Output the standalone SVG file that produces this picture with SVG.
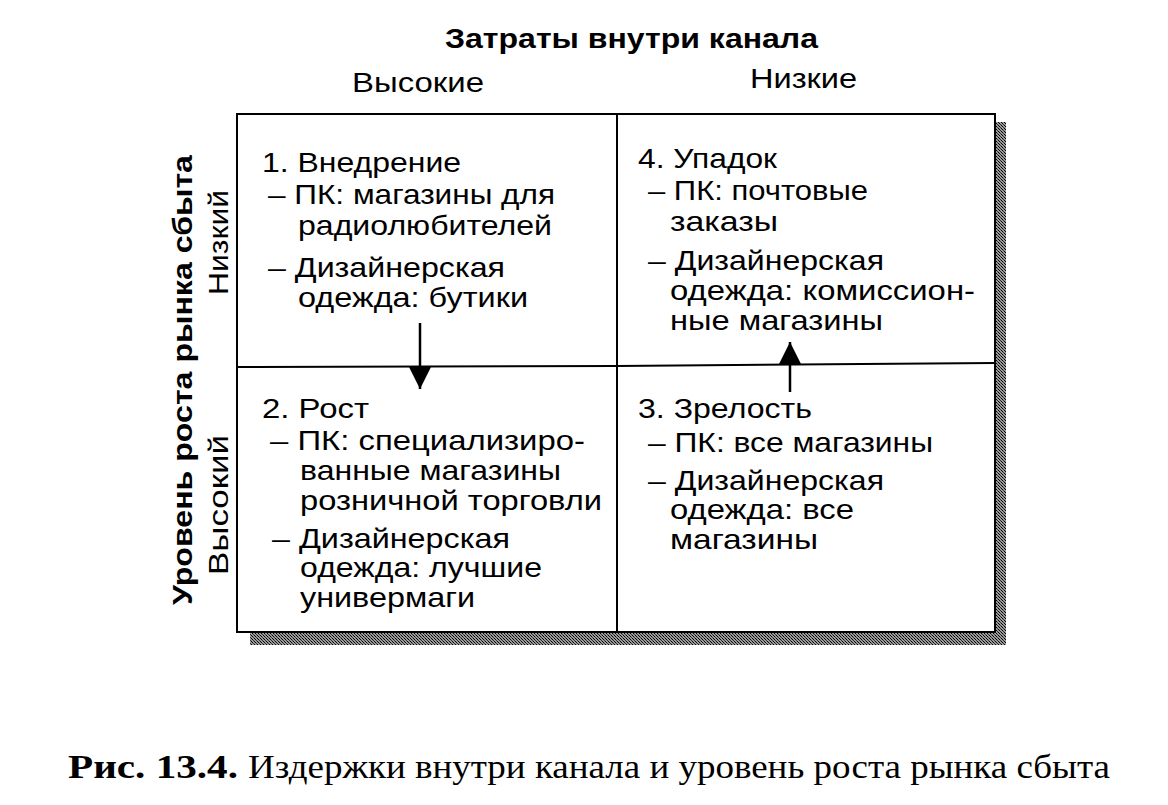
<svg xmlns="http://www.w3.org/2000/svg" width="1168" height="805" viewBox="0 0 1168 805">
<defs>
<pattern id="dots" width="4" height="4" patternUnits="userSpaceOnUse">
<rect width="4" height="4" fill="#efefef"/>
<rect x="0" y="0" width="1" height="1" fill="#7a7a7a"/>
<rect x="2" y="2" width="1" height="1" fill="#9a9a9a"/>
</pattern>
<pattern id="shade" width="3" height="3" patternUnits="userSpaceOnUse">
<rect width="3" height="3" fill="#9a9a9a"/>
<rect x="0" y="0" width="1" height="1" fill="#000"/>
<rect x="1" y="1" width="1" height="1" fill="#333"/>
<rect x="2" y="2" width="1" height="1" fill="#000"/>
</pattern>
<marker id="ah" viewBox="0 0 10 10" refX="10" refY="5" markerWidth="22" markerHeight="22" markerUnits="userSpaceOnUse" orient="auto">
<path d="M0,0 L10,5 L0,10 Z" fill="#000"/>
</marker>
<style>
.t{font-family:"Liberation Sans",Arial,sans-serif;font-size:28px;fill:#000}
.b{font-family:"Liberation Sans",Arial,sans-serif;font-size:27px;font-weight:bold;fill:#000}
.cap{font-family:"Liberation Serif","Times New Roman",serif;font-size:33px;fill:#000}
.grid{fill:none;stroke:#000;stroke-width:2}
.conn{stroke:#000;stroke-width:2.5;fill:none}
</style>
</defs>

<g id="shadow">
<rect x="995" y="122" width="11" height="523" fill="url(#shade)"/>
<rect x="250" y="632" width="756" height="13" fill="url(#shade)"/>
</g>

<g id="matrix">
<rect x="237" y="114" width="758" height="518" fill="url(#dots)" class="grid"/>
<line x1="617" y1="114" x2="617" y2="632" class="grid"/>
<line x1="237" y1="367" x2="617" y2="366" class="grid"/>
<line x1="617" y1="366" x2="995" y2="363" class="grid"/>
</g>

<g id="header">
<text class="b" x="445" y="48" textLength="373" lengthAdjust="spacingAndGlyphs">Затраты внутри канала</text>
<text class="t" x="352" y="92" textLength="132" lengthAdjust="spacingAndGlyphs">Высокие</text>
<text class="t" x="750" y="88" textLength="107" lengthAdjust="spacingAndGlyphs">Низкие</text>
</g>

<g id="yaxis">
<text class="b" transform="translate(192,605) rotate(-90)" x="0" y="0" textLength="450" lengthAdjust="spacingAndGlyphs">Уровень роста рынка сбыта</text>
<text class="t" transform="translate(228,295) rotate(-90)" x="0" y="0" textLength="105" lengthAdjust="spacingAndGlyphs">Низкий</text>
<text class="t" transform="translate(228,575) rotate(-90)" x="0" y="0" textLength="140" lengthAdjust="spacingAndGlyphs">Высокий</text>
</g>

<g id="q1">
<text class="t" x="262" y="172" textLength="199" lengthAdjust="spacingAndGlyphs">1. Внедрение</text>
<text class="t" x="268" y="204" textLength="287" lengthAdjust="spacingAndGlyphs">– ПК: магазины для</text>
<text class="t" x="298" y="235" textLength="254" lengthAdjust="spacingAndGlyphs">радиолюбителей</text>
<text class="t" x="268" y="277" textLength="237" lengthAdjust="spacingAndGlyphs">– Дизайнерская</text>
<text class="t" x="298" y="307" textLength="230" lengthAdjust="spacingAndGlyphs">одежда: бутики</text>
</g>

<g id="q4">
<text class="t" x="638" y="168" textLength="139" lengthAdjust="spacingAndGlyphs">4. Упадок</text>
<text class="t" x="648" y="200" textLength="220" lengthAdjust="spacingAndGlyphs">– ПК: почтовые</text>
<text class="t" x="670" y="231" textLength="108" lengthAdjust="spacingAndGlyphs">заказы</text>
<text class="t" x="648" y="270" textLength="236" lengthAdjust="spacingAndGlyphs">– Дизайнерская</text>
<text class="t" x="670" y="300" textLength="305" lengthAdjust="spacingAndGlyphs">одежда: комиссион-</text>
<text class="t" x="670" y="330" textLength="213" lengthAdjust="spacingAndGlyphs">ные магазины</text>
</g>

<g id="q2">
<text class="t" x="262" y="418" textLength="107" lengthAdjust="spacingAndGlyphs">2. Рост</text>
<text class="t" x="270" y="450" textLength="315" lengthAdjust="spacingAndGlyphs">– ПК: специализиро-</text>
<text class="t" x="300" y="480" textLength="261" lengthAdjust="spacingAndGlyphs">ванные магазины</text>
<text class="t" x="300" y="510" textLength="302" lengthAdjust="spacingAndGlyphs">розничной торговли</text>
<text class="t" x="272" y="548" textLength="238" lengthAdjust="spacingAndGlyphs">– Дизайнерская</text>
<text class="t" x="300" y="577" textLength="242" lengthAdjust="spacingAndGlyphs">одежда: лучшие</text>
<text class="t" x="300" y="607" textLength="175" lengthAdjust="spacingAndGlyphs">универмаги</text>
</g>

<g id="q3">
<text class="t" x="638" y="418" textLength="174" lengthAdjust="spacingAndGlyphs">3. Зрелость</text>
<text class="t" x="648" y="452" textLength="285" lengthAdjust="spacingAndGlyphs">– ПК: все магазины</text>
<text class="t" x="648" y="490" textLength="236" lengthAdjust="spacingAndGlyphs">– Дизайнерская</text>
<text class="t" x="670" y="519" textLength="184" lengthAdjust="spacingAndGlyphs">одежда: все</text>
<text class="t" x="670" y="549" textLength="148" lengthAdjust="spacingAndGlyphs">магазины</text>
</g>

<g id="connectors">
<line x1="420" y1="323" x2="420" y2="389" class="conn" marker-end="url(#ah)"/>
<line x1="790" y1="392" x2="790" y2="342" class="conn" marker-end="url(#ah)"/>
</g>

<g id="caption">
<text class="cap" x="68" y="778" font-weight="bold" textLength="170" lengthAdjust="spacingAndGlyphs">Рис. 13.4.</text>
<text class="cap" x="248" y="778" textLength="862" lengthAdjust="spacingAndGlyphs">Издержки внутри канала и уровень роста рынка сбыта</text>
</g>
</svg>
